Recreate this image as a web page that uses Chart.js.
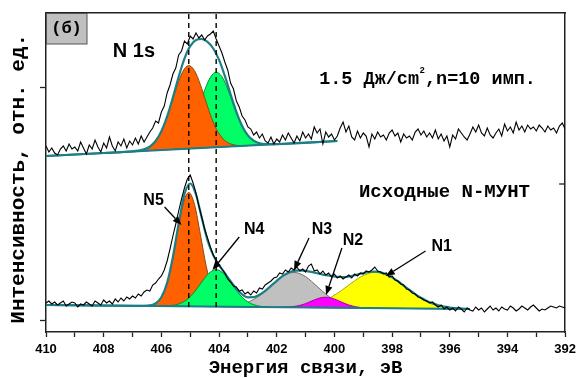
<!DOCTYPE html>
<html>
<head>
<meta charset="utf-8">
<script src="https://cdn.jsdelivr.net/npm/chart.js"></script>
<style>
  html, body { margin: 0; padding: 0; background: #fff; }
  canvas { display: block; }
</style>
</head>
<body>
<canvas id="c" width="581" height="378"></canvas>
<script>
// ---------- data (binding energy in eV, intensity in arbitrary units) ----------
const energyStart = 410, energyStep = 0.1;

// measured spectrum, after 1.5 J/cm2, n=10 pulses (upper curve)
const topRaw = [
  186,180,184,179,177,183,186,181,188,183,
  185,181,190,184,178,187,183,192,185,180,
  189,184,195,186,181,190,186,193,184,191,
  187,194,188,196,190,195,200,204,211,209,
  220,226,239,247,258,264,277,281,291,288,
  296,293,299,294,297,292,296,298,301,293,
  286,279,270,262,249,243,231,225,216,212,
  205,203,197,200,194,198,191,189,195,188,
  193,190,197,192,199,194,189,196,191,200,
  194,198,193,205,199,203,188,200,195,198,
  192,196,204,210,200,206,195,192,201,194,
  199,196,185,198,193,200,195,197,192,199,
  202,196,199,190,198,194,196,192,200,203,
  197,201,195,199,194,202,193,198,191,196,
  185,197,193,203,199,195,192,198,205,200,
  207,199,196,204,197,194,199,203,196,208,
  201,205,199,210,202,206,200,207,203,205,
  201,207,204,200,206,202,204,199,206,209,
  203
];

// measured spectrum, initial N-MWCNT (lower curve)
const bottomRaw = [
  29,31,28,30,27,29,31,26,28,30,
  29,25,28,27,30,28,26,31,29,27,
  32,29,31,28,33,30,34,31,35,33,
  36,34,38,36,40,42,41,47,49,53,
  56,62,71,83,96,108,121,133,144,153,
  157,149,139,126,115,103,94,85,77,72,
  67,63,59,53,50,46,45,41,42,38,
  40,37,41,39,44,43,47,49,51,54,
  55,59,58,62,60,64,62,65,61,63,
  60,66,68,61,62,58,61,57,59,55,
  58,54,56,53,55,57,54,58,56,59,
  58,61,60,62,65,61,60,58,59,55,
  56,52,51,48,47,43,42,39,38,35,
  34,32,31,29,30,27,25,27,23,25,
  22,24,21,25,23,20,24,22,21,25,
  22,24,20,23,26,22,24,21,25,23,
  22,26,24,21,23,26,24,22,25,27,
  24,21,23,22,24,26,25,24,26,25,
  24
];

// backgrounds
const topBaseline = [[410,176],[399.9,191]];
const bottomBaseline = [[410,27],[395.3,22.9]];
const topPeakFloor = [[407.0,180.5],[402.2,187.6]];
const bottomPeakFloor = [[406.5,26.0],[395.6,23.0]];

// fitted envelopes
const topEnvelope = [[410,176],[408,179],[407,180.6],[406.8,181.3],[406.6,182.6],[406.4,185.4],[406.2,191.0],[406.0,200.8],[405.8,215.6],[405.6,234.6],[405.4,255.2],[405.2,273.3],[405.0,285.8],[404.8,292.0],[404.6,293.0],[404.4,290.2],[404.2,283.5],[404.0,272.1],[403.8,256.1],[403.6,237.7],[403.4,220.1],[403.2,206.1],[403.0,196.6],[402.8,191.3],[402.6,188.8],[402.4,187.9],[402.2,187.8],[402.0,187.9],[399.9,191.0]];
const bottomEnvelope = [[410,27],[408,26.4],[407,26.2],[406.6,26.2],[406.4,26.6],[406.2,28.6],[406.0,34.8],[405.8,49.2],[405.6,75.1],[405.4,108.6],[405.2,137.7],[405.0,148.5],[404.8,137.5],[404.6,114.2],[404.4,91.8],[404.2,76.6],[404.0,66.9],[403.8,58.9],[403.6,50.8],[403.4,43.2],[403.2,37.6],[403.0,34.7],[402.8,34.8],[402.6,37.2],[402.4,41.2],[402.2,46.1],[402.0,51.2],[401.8,55.9],[401.6,59.3],[401.4,61.1],[401.2,61.6],[401.0,61.1],[400.8,60.1],[400.6,58.8],[400.4,57.4],[400.2,56.5],[400.0,55.5],[399.8,55.0],[399.6,55.0],[399.4,56.0],[399.2,57.5],[399.0,59.0],[398.8,60.0],[398.6,60.3],[398.4,59.6],[398.2,57.6],[398.0,54.6],[397.8,50.8],[397.6,46.4],[397.4,42.1],[397.2,37.9],[397.0,34.2],[396.8,31.1],[396.6,28.6],[396.4,26.8],[396.2,25.4],[396.0,24.5],[395.8,23.8],[395.6,23.4],[395.3,23.0]];

// fitted components (upper curve)
const topN5 = [[407.05,180.5],[406.85,181.1],[406.65,182.2],[406.45,184.6],[406.25,189.3],[406.05,197.8],[405.85,211.0],[405.65,228.3],[405.45,246.5],[405.25,260.8],[405.05,266.4],[404.85,261.3],[404.65,247.6],[404.45,230.0],[404.25,213.3],[404.05,200.7],[403.85,192.8],[403.65,188.7],[403.45,186.9],[403.25,186.4],[403.05,186.4]];
const topN4 = [[406.1,181.9],[405.9,182.4],[405.7,183.5],[405.5,185.6],[405.3,189.9],[405.1,197.7],[404.9,209.6],[404.7,225.3],[404.5,241.8],[404.3,254.7],[404.1,259.8],[403.9,255.3],[403.7,243.0],[403.5,227.1],[403.3,212.0],[403.1,200.7],[402.9,193.4],[402.7,189.7],[402.5,188.2],[402.3,187.8],[402.1,187.8]];

// fitted components (lower curve)
const botN5 = [[406.45,26.4],[406.25,27.9],[406.05,32.6],[405.85,44.4],[405.65,66.8],[405.45,98.1],[405.25,127.5],[405.05,139.6],[404.85,127.4],[404.65,97.9],[404.45,66.5],[404.25,44.0],[404.05,32.0],[403.85,27.2],[403.65,25.6]];
const botN4 = [[405.9,26.05],[405.7,26.3],[405.5,27.2],[405.3,29.1],[405.1,32.7],[404.9,38.4],[404.7,45.9],[404.5,53.9],[404.3,60.0],[404.1,62.3],[403.9,59.9],[403.7,53.6],[403.5,45.6],[403.3,37.9],[403.1,32.2],[402.9,28.4],[402.7,26.5],[402.5,25.4],[402.3,25.0]];
const botN3 = [[403.8,25.7],[403.6,26.0],[403.4,26.7],[403.2,27.9],[403.0,29.7],[402.8,32.6],[402.6,36.3],[402.4,40.9],[402.2,46.0],[402.0,51.2],[401.8,55.6],[401.6,58.5],[401.4,59.6],[401.2,58.4],[401.0,55.4],[400.8,50.8],[400.6,45.6],[400.4,40.3],[400.2,35.7],[400.0,31.8],[399.8,28.8],[399.6,26.9],[399.4,25.5],[399.2,24.8],[399.0,24.3]];
const botN2 = [[401.9,24.8],[401.7,24.9],[401.5,25.2],[401.3,26.0],[401.1,27.4],[400.9,29.6],[400.7,32.0],[400.5,34.0],[400.3,34.8],[400.1,33.9],[399.9,31.8],[399.7,29.2],[399.5,27.0],[399.3,25.4],[399.1,24.5],[398.9,24.1],[398.7,23.9]];
const botN1 = [[401.55,25.0],[401.25,25.5],[400.95,26.5],[400.65,28.4],[400.35,31.4],[400.05,35.9],[399.75,41.6],[399.45,48.0],[399.15,54.1],[398.85,58.3],[398.55,59.8],[398.25,58.1],[397.95,53.7],[397.65,47.5],[397.35,41.0],[397.05,35.1],[396.75,30.4],[396.45,27.2],[396.15,25.1],[395.85,23.9],[395.55,23.4]];

// reference lines (peak positions)
const markerEnergies = [405.05, 404.1];
const markerRange = [25, 319];

// axis
const xMin = 392, xMax = 410, yMin = 0, yMax = 319;
const yTickValues = [12, 245];
const yRightTickValues = [148];
const xTitle = 'Энергия связи, эВ';
const yTitle = 'Интенсивность, отн. ед. ';

// annotations
const peakNames = ['N5', 'N4', 'N3', 'N2', 'N1'];
const peakLabelAt = [[406.27,131],[402.78,102],[400.43,102],[399.36,91],[396.28,85]];
const peakArrows = [[405.89,125,405.30,107],[403.30,95,404.23,62],[400.88,94,401.40,62],[399.74,84,400.29,37],[396.84,81,398.22,56]];
const panelTag = '(б)';
const lineTitle = 'N 1s';
const lineTitleAt = [406.95, 281];
const topCaption = ['1.5 Дж/cm', '2', ',n=10 имп.'];
const topCaptionAt = [400.53, 253];
const bottomCaption = 'Исходные N-МУНТ';
const bottomCaptionAt = [399.15, 140];

// ---------- build ----------
const pts = arr => arr.map(p => ({x: p[0], y: p[1]}));
const rawPts = arr => arr.map((v, i) => ({x: +(energyStart - i * energyStep).toFixed(2), y: v}));

const TEAL = '#1c7f86';
const datasets = [];
function add(ds) { datasets.push(Object.assign({pointRadius: 0, pointHoverRadius: 0, fill: false, tension: 0}, ds)); return datasets.length - 1; }

markerEnergies.forEach(e => add({data: [{x: e, y: markerRange[0]}, {x: e, y: markerRange[1]}], borderColor: '#000', borderWidth: 1.4, borderDash: [5, 4], order: 0}));
const iTopBase = add({data: pts(topBaseline), borderColor: TEAL, borderWidth: 2, order: 3});
const iBotBase = add({data: pts(bottomBaseline), borderColor: TEAL, borderWidth: 2, order: 3});

function peak(data, target, fillColor, lineColor, order) {
  add({data: pts(data), borderColor: lineColor, borderWidth: 1, backgroundColor: fillColor,
       fill: target, cubicInterpolationMode: 'monotone', order});
}
peak(topN5, iTopBase, '#ff6000', '#8a4a10', 5);
peak(topN4, iTopBase, '#00ff66', '#0a8a3a', 6);
peak(botN2, iBotBase, '#ff00ff', '#a000a0', 5);
peak(botN4, iBotBase, '#00ff66', '#0a8a3a', 6);
peak(botN5, iBotBase, '#ff6000', '#8a4a10', 7);
peak(botN1, iBotBase, '#ffff00', '#a8a800', 8);
peak(botN3, iBotBase, '#c0c0c0', '#707070', 9);

add({data: pts(topPeakFloor), borderColor: '#1a1a8c', borderWidth: 1, order: 4});
add({data: pts(bottomPeakFloor), borderColor: '#1a1a8c', borderWidth: 1.2, order: 4});
add({data: pts(topEnvelope), borderColor: TEAL, borderWidth: 2.2, cubicInterpolationMode: 'monotone', order: 2});
add({data: pts(bottomEnvelope), borderColor: TEAL, borderWidth: 2.2, cubicInterpolationMode: 'monotone', order: 2});
add({data: rawPts(topRaw), borderColor: '#000', borderWidth: 1.1, order: 1});
add({data: rawPts(bottomRaw), borderColor: '#000', borderWidth: 1.1, order: 1});

function arrow(ctx, x0, y0, x1, y1) {
  const a = Math.atan2(y1 - y0, x1 - x0), L = 9, W = 3.6;
  const bx = x1 - L * Math.cos(a), by = y1 - L * Math.sin(a);
  ctx.beginPath(); ctx.moveTo(x0, y0); ctx.lineTo(bx, by); ctx.stroke();
  ctx.beginPath();
  ctx.moveTo(x1, y1);
  ctx.lineTo(bx + W * Math.sin(a), by - W * Math.cos(a));
  ctx.lineTo(bx - W * Math.sin(a), by + W * Math.cos(a));
  ctx.closePath(); ctx.fill();
}

const annot = {
  id: 'annot',
  afterDatasetsDraw(chart) {
    const {ctx, chartArea: ca, scales: {x, y}} = chart;
    ctx.save();
    ctx.strokeStyle = '#000'; ctx.fillStyle = '#000'; ctx.lineWidth = 1.3;
    peakNames.forEach((t, i) => {
      const [e0, v0, e1, v1] = peakArrows[i];
      arrow(ctx, x.getPixelForValue(e0), y.getPixelForValue(v0), x.getPixelForValue(e1), y.getPixelForValue(v1));
      ctx.font = 'bold 16px "Liberation Sans", Arial, sans-serif';
      ctx.textAlign = 'center'; ctx.textBaseline = 'middle';
      ctx.fillText(t, x.getPixelForValue(peakLabelAt[i][0]), y.getPixelForValue(peakLabelAt[i][1]));
    });
    // N 1s
    ctx.font = 'bold 20px "Liberation Sans", Arial, sans-serif';
    ctx.fillText(lineTitle, x.getPixelForValue(lineTitleAt[0]), y.getPixelForValue(lineTitleAt[1]));
    // captions
    ctx.textAlign = 'left';
    const mono = 'bold 18.5px "Liberation Mono", "Courier New", monospace';
    let cx = x.getPixelForValue(topCaptionAt[0]); const cy = y.getPixelForValue(topCaptionAt[1]);
    ctx.font = mono; ctx.fillText(topCaption[0], cx, cy); cx += ctx.measureText(topCaption[0]).width + 0.5;
    ctx.font = 'bold 9px "Liberation Mono", monospace'; ctx.fillText(topCaption[1], cx, cy - 8); cx += ctx.measureText(topCaption[1]).width;
    ctx.font = mono; ctx.fillText(topCaption[2], cx, cy);
    ctx.font = 'bold 19px "Liberation Mono", "Courier New", monospace';
    ctx.fillText(bottomCaption, x.getPixelForValue(bottomCaptionAt[0]), y.getPixelForValue(bottomCaptionAt[1]));
    // inward tick on the right axis
    ctx.lineWidth = 1.3; ctx.strokeStyle = '#222';
    yRightTickValues.forEach(v => {
      const py = y.getPixelForValue(v);
      ctx.beginPath(); ctx.moveTo(ca.right - 6, py); ctx.lineTo(ca.right, py); ctx.stroke();
    });
    ctx.restore();
  },
  afterDraw(chart) {
    const {ctx, chartArea: ca} = chart;
    ctx.save();
    ctx.fillStyle = '#c0c0c0'; ctx.strokeStyle = '#555'; ctx.lineWidth = 1;
    ctx.fillRect(ca.left, ca.top, 41, 31);
    ctx.strokeRect(ca.left + 0.5, ca.top + 0.5, 40.5, 30.5);
    ctx.fillStyle = '#000';
    ctx.font = 'bold 17px "Liberation Mono", "Courier New", monospace';
    ctx.textAlign = 'center'; ctx.textBaseline = 'middle';
    ctx.fillText(panelTag, ca.left + 20.5, ca.top + 16);
    ctx.restore();
  }
};

const border = {display: true, color: '#222', width: 1.5};
new Chart(document.getElementById('c').getContext('2d'), {
  type: 'line',
  data: {datasets},
  options: {
    responsive: false, animation: false, devicePixelRatio: 1,
    layout: {padding: {left: 0, right: 14, top: 13, bottom: 0}},
    plugins: {legend: {display: false}, tooltip: {enabled: false}},
    events: [],
    scales: {
      x: {
        type: 'linear', position: 'bottom', reverse: true, min: xMin, max: xMax,
        ticks: {stepSize: 1, autoSkip: false, maxRotation: 0, padding: 5, color: '#000',
                font: {family: '"Liberation Sans", Arial, sans-serif', weight: 'bold', size: 13},
                callback: v => (v % 2 === 0 ? String(v) : '')},
        grid: {drawOnChartArea: false, tickLength: 5, tickColor: '#222', tickWidth: 1.3},
        border,
        title: {display: true, text: xTitle, color: '#000', padding: 0,
                font: {family: '"Liberation Mono", "Courier New", monospace', weight: 'bold', size: 19, lineHeight: 1}},
        afterFit: s => { s.height = 46; }
      },
      y: {
        type: 'linear', position: 'left', min: yMin, max: yMax,
        ticks: {display: false},
        afterBuildTicks: s => { s.ticks = yTickValues.map(v => ({value: v})); },
        grid: {drawOnChartArea: false, tickLength: 6, tickColor: '#222', tickWidth: 1.3},
        border,
        title: {display: true, text: yTitle, color: '#000', padding: {top: 6, bottom: 0},
                font: {family: '"Liberation Mono", "Courier New", monospace', weight: 'bold', size: 21}},
        afterFit: s => { s.width = 46; }
      },
      xTop: {
        type: 'linear', position: 'top', reverse: true, min: xMin, max: xMax,
        ticks: {display: false}, grid: {drawOnChartArea: false, drawTicks: false}, border,
        afterFit: s => { s.height = 0; }
      },
      yRight: {
        type: 'linear', position: 'right', min: yMin, max: yMax,
        ticks: {display: false}, grid: {drawOnChartArea: false, drawTicks: false}, border,
        afterFit: s => { s.width = 0; }
      }
    }
  },
  plugins: [annot]
});
</script>
</body>
</html>
